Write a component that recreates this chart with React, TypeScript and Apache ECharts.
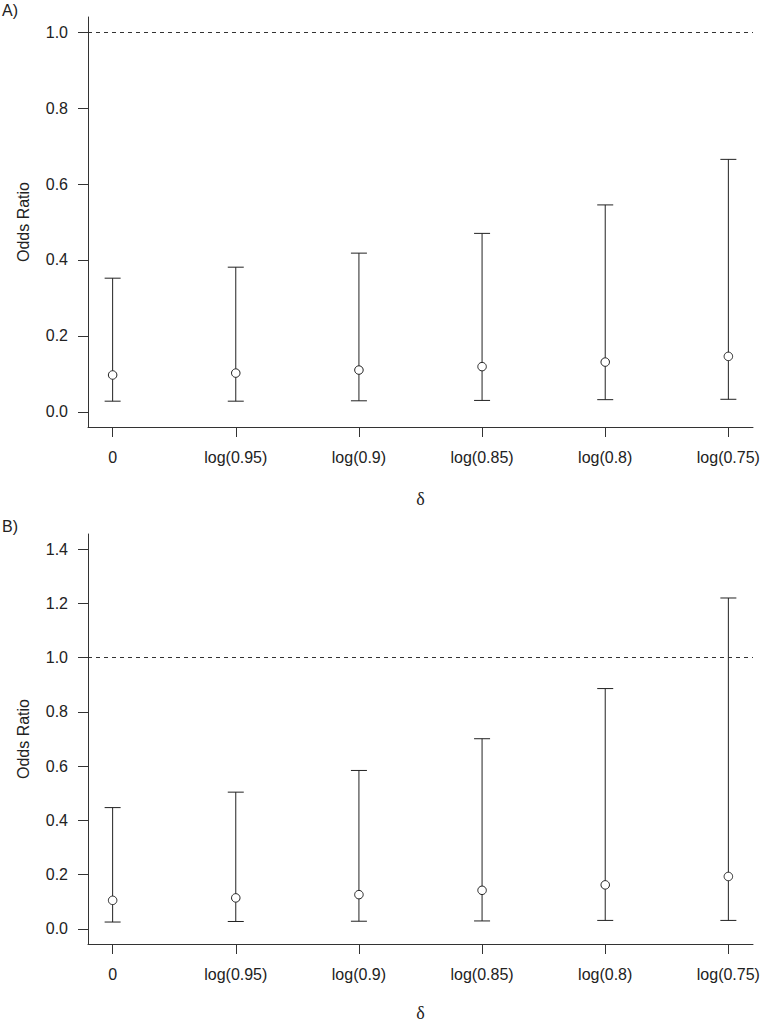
import React, { useEffect, useRef } from "react";
import * as echarts from "echarts";

const categories = ["0", "log(0.95)", "log(0.9)", "log(0.85)", "log(0.8)", "log(0.75)"];
const positions = [1, 2, 3, 4, 5, 6];

const aOdds = [0.097, 0.102, 0.11, 0.119, 0.131, 0.146];
const aLower = [0.028, 0.028, 0.029, 0.03, 0.032, 0.033];
const aUpper = [0.352, 0.381, 0.418, 0.47, 0.545, 0.665];

const bOdds = [0.105, 0.114, 0.126, 0.142, 0.162, 0.193];
const bLower = [0.025, 0.027, 0.028, 0.029, 0.031, 0.031];
const bUpper = [0.447, 0.504, 0.584, 0.701, 0.886, 1.22];

const aTicks = [0, 0.2, 0.4, 0.6, 0.8, 1.0];
const bTicks = [0, 0.2, 0.4, 0.6, 0.8, 1.0, 1.2, 1.4];

const INK = "#222";
const AXIS = "#333";
const SANS = "'Liberation Sans', Arial, Helvetica, sans-serif";
const SERIF = "'Liberation Serif', 'Times New Roman', serif";

function renderBar(params: any, api: any) {
  const x = api.value(0);
  const lo = api.coord([x, api.value(1)]);
  const hi = api.coord([x, api.value(2)]);
  const hw = 8;
  const style = { stroke: INK, lineWidth: 1, fill: "none" };
  return {
    type: "group",
    children: [
      { type: "line", shape: { x1: lo[0], y1: lo[1], x2: hi[0], y2: hi[1] }, style },
      { type: "line", shape: { x1: lo[0] - hw, y1: lo[1], x2: lo[0] + hw, y2: lo[1] }, style },
      { type: "line", shape: { x1: hi[0] - hw, y1: hi[1], x2: hi[0] + hw, y2: hi[1] }, style },
    ],
  };
}

function xAxisFor(gridIndex: number) {
  return {
    type: "value",
    gridIndex,
    min: 0.8,
    max: 6.2,
    position: "bottom",
    axisLine: { show: true, onZero: false, lineStyle: { color: AXIS, width: 1 } },
    axisTick: { show: true, length: 10, customValues: positions, lineStyle: { color: AXIS, width: 1 } },
    axisLabel: {
      show: true,
      customValues: positions,
      margin: 22,
      fontSize: 16,
      fontFamily: SANS,
      color: INK,
      formatter: (v: number) => categories[Math.round(v) - 1] ?? "",
    },
    splitLine: { show: false },
  };
}

function yAxisFor(gridIndex: number, max: number, ticks: number[]) {
  return {
    type: "value",
    gridIndex,
    min: -0.04 * max,
    max: max * 1.04,
    axisLine: { show: true, lineStyle: { color: AXIS, width: 1 } },
    axisTick: { show: true, length: 10, customValues: ticks, lineStyle: { color: AXIS, width: 1 } },
    axisLabel: {
      show: true,
      customValues: ticks,
      margin: 20,
      fontSize: 16,
      fontFamily: SANS,
      color: INK,
      formatter: (v: number) => v.toFixed(1),
    },
    splitLine: { show: false },
  };
}

function seriesFor(idx: number, odds: number[], lower: number[], upper: number[]) {
  return [
    {
      type: "custom",
      xAxisIndex: idx,
      yAxisIndex: idx,
      renderItem: renderBar,
      encode: { x: 0, y: [1, 2] },
      data: positions.map((p, i) => [p, lower[i], upper[i]]),
      z: 2,
      markLine: {
        silent: true,
        symbol: "none",
        label: { show: false },
        lineStyle: { color: AXIS, type: [4, 4], width: 1 },
        data: [{ yAxis: 1 }],
      },
    },
    {
      type: "scatter",
      xAxisIndex: idx,
      yAxisIndex: idx,
      symbol: "circle",
      symbolSize: 8.5,
      itemStyle: { color: "#fff", borderColor: INK, borderWidth: 1, opacity: 1 },
      data: positions.map((p, i) => [p, odds[i]]),
      z: 3,
    },
  ];
}

export default function App() {
  const ref = useRef<HTMLDivElement>(null);
  useEffect(() => {
    if (!ref.current) return;
    const chart = echarts.init(ref.current, undefined, { renderer: "svg" });
    const textStyle = (text: string, size: number, family: string) => ({
      text,
      fontSize: size,
      fontFamily: family,
      fill: INK,
    });
    chart.setOption({
      animation: false,
      backgroundColor: "#fff",
      grid: [
        { left: 88, top: 17, width: 665, height: 410, containLabel: false, outerBoundsMode: "none" },
        { left: 88, top: 534, width: 665, height: 410, containLabel: false, outerBoundsMode: "none" },
      ],
      xAxis: [xAxisFor(0), xAxisFor(1)],
      yAxis: [yAxisFor(0, 1.0, aTicks), yAxisFor(1, 1.4, bTicks)],
      series: [...seriesFor(0, aOdds, aLower, aUpper), ...seriesFor(1, bOdds, bLower, bUpper)],
      graphic: [
        { type: "text", x: 2, y: 10, style: { ...textStyle("A)", 16, SANS), textAlign: "left", textVerticalAlign: "middle" } },
        { type: "text", x: 2, y: 526, style: { ...textStyle("B)", 16, SANS), textAlign: "left", textVerticalAlign: "middle" } },
        { type: "text", x: 23.5, y: 222, rotation: Math.PI / 2, style: { ...textStyle("Odds Ratio", 16, SANS), textAlign: "center", textVerticalAlign: "middle" } },
        { type: "text", x: 23.5, y: 739, rotation: Math.PI / 2, style: { ...textStyle("Odds Ratio", 16, SANS), textAlign: "center", textVerticalAlign: "middle" } },
        { type: "text", x: 420.5, y: 499, style: { ...textStyle("δ", 18, SERIF), textAlign: "center", textVerticalAlign: "middle" } },
        { type: "text", x: 420.5, y: 1013, style: { ...textStyle("δ", 18, SERIF), textAlign: "center", textVerticalAlign: "middle" } },
      ],
    });
    return () => chart.dispose();
  }, []);
  return (
    <div
      ref={ref}
      style={{ position: "fixed", left: 0, top: 0, width: 761, height: 1024, background: "#fff" }}
    />
  );
}
